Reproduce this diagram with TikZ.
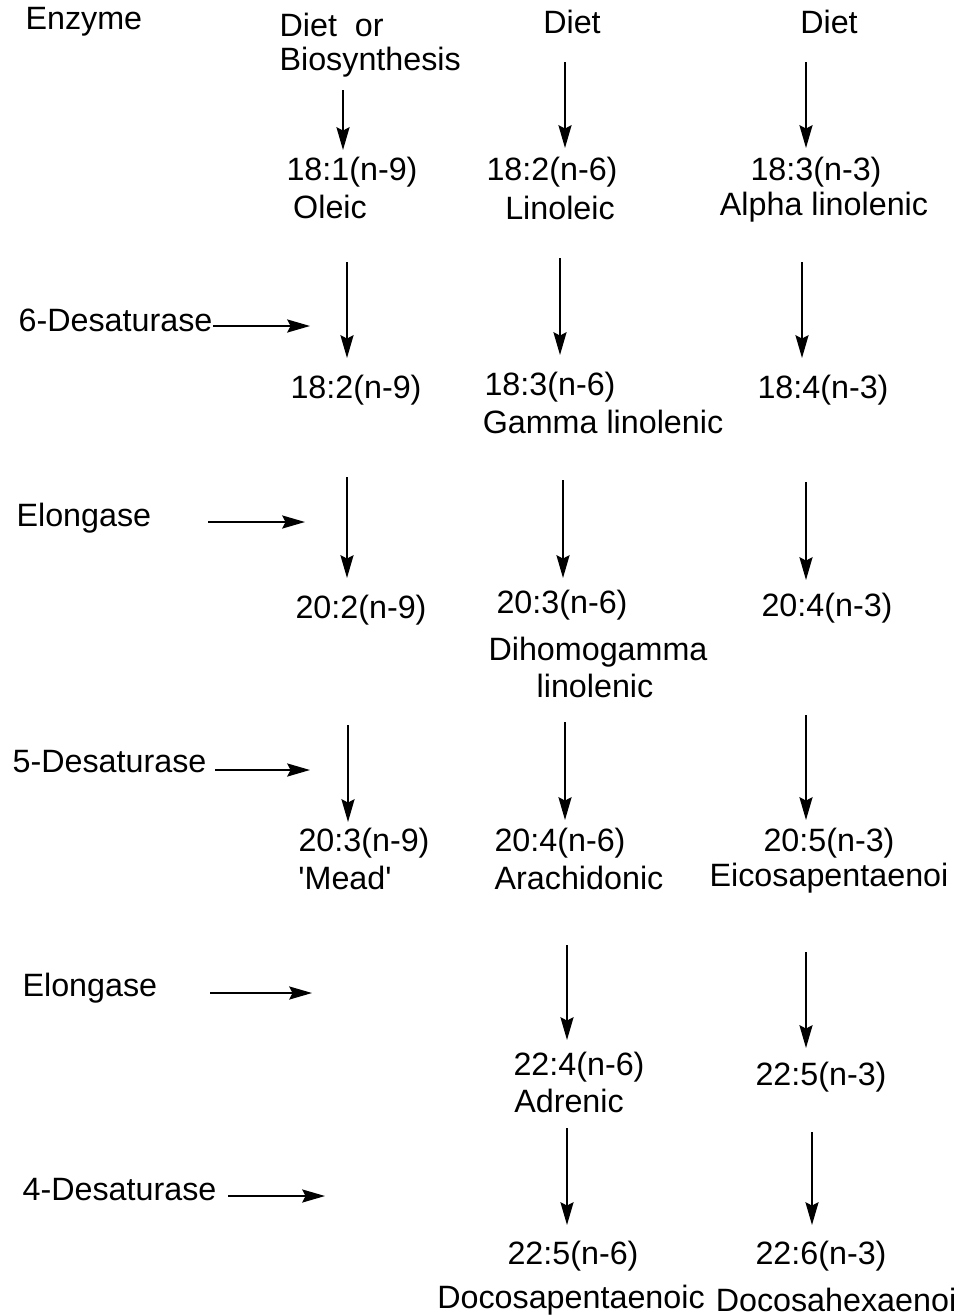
\documentclass[tikz,border=0pt]{standalone}
\usepackage{fontspec}
\setmainfont{Liberation Sans}
\usepackage{tikz}
\usetikzlibrary{positioning, calc, arrows.meta}

\begin{document}
\begin{tikzpicture}[x=0.35pt, y=-0.35pt, every node/.style={inner sep=0pt, font=\fontsize{11.3}{13}\selectfont}, arr/.style={-{Stealth[length=8pt, width=4.6pt, inset=1.2pt]}, line width=0.55pt}, enzlabel/.style={anchor=west}]
      \useasboundingbox (0,0) rectangle (966,1315);

      % column heads
      \node[enzlabel] (enz) at (25,22) {Enzyme};
      \node[enzlabel] (dietor) at (279,25) {Diet\ \ or}; \node[enzlabel] (biosyn) at (279,62) {Biosynthesis};
      \node (dietb) at (572,22) {Diet}; \node (dietc) at (829,22) {Diet};

      % first row
      \node (oleicnum) at (352,172) {18:1(n-9)}; \node (oleic) at (330,207) {Oleic};
      \node (linnum) at (552,172) {18:2(n-6)}; \node (lin) at (560,208) {Linoleic};
      \node (alanum) at (816,172) {18:3(n-3)}; \node (ala) at (824,207) {Alpha linolenic};

      % after 6-desaturase
      \node (cnine) at (356,390) {18:2(n-9)};
      \node (glanum) at (550,387) {18:3(n-6)}; \node (gla) at (603,422) {Gamma linolenic};
      \node (sdanum) at (823,390) {18:4(n-3)};

      % after elongase
      \node (dnine) at (361,610) {20:2(n-9)};
      \node (dglanum) at (562,605) {20:3(n-6)}; \node (dgla) at (598,652) {Dihomogamma}; \node (dglb) at (595,686) {linolenic};
      \node (etanum) at (827,608) {20:4(n-3)};

      % after 5-desaturase
      \node (meadnum) at (364,843) {20:3(n-9)}; \node (mead) at (345,878) {\textquotesingle Mead\textquotesingle};
      \node (aranum) at (560,843) {20:4(n-6)}; \node (ara) at (579,878) {Arachidonic};
      \node (epanum) at (829,843) {20:5(n-3)}; \node (epa) at (829,878) {Eicosapentaenoi};

      % after elongase
      \node (adrnum) at (579,1067) {22:4(n-6)}; \node (adr) at (569,1101) {Adrenic};
      \node (dpathree) at (821,1077) {22:5(n-3)};

      % after 4-desaturase
      \node (dpanum) at (573,1256) {22:5(n-6)}; \node (dpa) at (571,1300) {Docosapentaenoic};
      \node (dhanum) at (821,1256) {22:6(n-3)}; \node (dha) at (836,1300) {Docosahexaenoi};

      % enzymes
      \node[enzlabel] (desa) at (18,320) {6-Desaturase}; \coordinate (desat) at (310,326);
      \node[enzlabel] (eloa) at (16,518) {Elongase}; \coordinate (elosa) at (208,522); \coordinate (eloat) at (305,522);
      \node[enzlabel] (desb) at (12,762) {5-Desaturase}; \coordinate (desbs) at (215,770); \coordinate (desbt) at (310,770);
      \node[enzlabel] (elob) at (22,988) {Elongase}; \coordinate (elosb) at (210,993); \coordinate (elobt) at (312,993);
      \node[enzlabel] (desc) at (22,1190) {4-Desaturase}; \coordinate (descs) at (228,1196); \coordinate (desct) at (325,1196);

      \draw[arr] (desa.east |- desat) -- (desat); \draw[arr] (elosa) -- (eloat);
      \draw[arr] (desbs) -- (desbt); \draw[arr] (elosb) -- (elobt);
      \draw[arr] (descs) -- (desct);

      % step arrows, column n-9
      \coordinate (pa0) at (343,90); \coordinate (pa1) at (343,150);
      \coordinate (pb0) at (347,262); \coordinate (pb1) at (347,358);
      \coordinate (pc0) at (347,477); \coordinate (pc1) at (347,578);
      \coordinate (pd0) at (348,725); \coordinate (pd1) at (348,822);
      \draw[arr] (pa0) -- (pa1); \draw[arr] (pb0) -- (pb1);
      \draw[arr] (pc0) -- (pc1); \draw[arr] (pd0) -- (pd1);

      % step arrows, column n-6
      \coordinate (qa0) at (565,62); \coordinate (qa1) at (565,148);
      \coordinate (qb0) at (560,258); \coordinate (qb1) at (560,355);
      \coordinate (qc0) at (563,480); \coordinate (qc1) at (563,578);
      \coordinate (qd0) at (565,722); \coordinate (qd1) at (565,820);
      \coordinate (qe0) at (567,945); \coordinate (qe1) at (567,1040);
      \coordinate (qf0) at (567,1128); \coordinate (qf1) at (567,1225);
      \draw[arr] (qa0) -- (qa1); \draw[arr] (qb0) -- (qb1); \draw[arr] (qc0) -- (qc1);
      \draw[arr] (qd0) -- (qd1); \draw[arr] (qe0) -- (qe1); \draw[arr] (qf0) -- (qf1);

      % step arrows, column n-3
      \coordinate (ra0) at (806,62); \coordinate (ra1) at (806,148);
      \coordinate (rb0) at (802,262); \coordinate (rb1) at (802,358);
      \coordinate (rc0) at (806,482); \coordinate (rc1) at (806,580);
      \coordinate (rd0) at (806,715); \coordinate (rd1) at (806,820);
      \coordinate (re0) at (806,952); \coordinate (re1) at (806,1048);
      \coordinate (rf0) at (812,1132); \coordinate (rf1) at (812,1225);
      \draw[arr] (ra0) -- (ra1); \draw[arr] (rb0) -- (rb1); \draw[arr] (rc0) -- (rc1);
      \draw[arr] (rd0) -- (rd1); \draw[arr] (re0) -- (re1); \draw[arr] (rf0) -- (rf1);
    \end{tikzpicture}
\end{document}
